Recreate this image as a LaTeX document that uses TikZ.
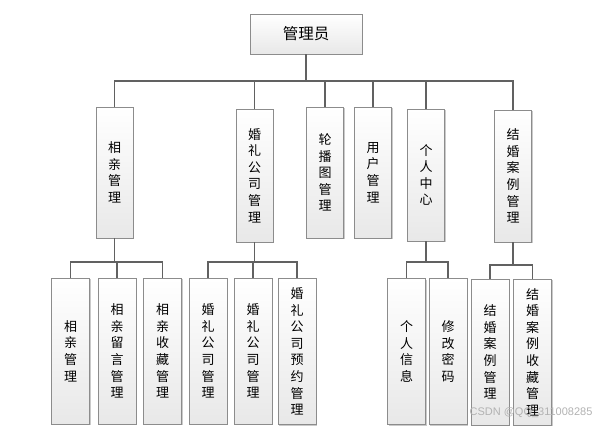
\documentclass[tikz,border=0pt]{standalone}
\usepackage{fontspec}
\newfontfamily\cjk{Noto Sans CJK SC}
\newfontfamily\wmfont{Liberation Sans}
\usetikzlibrary{shadows}
\tikzstyle{every node}=[font=\cjk\fontsize{13}{16.6}\selectfont]
\tikzstyle{box}=[draw=black!45,line width=0.9pt,top color=white,bottom color=black!9,
  drop shadow={shadow xshift=1.3pt,shadow yshift=-1.3pt,fill=black!35,opacity=0.6},
  align=center,inner sep=0pt]
\tikzstyle{midbox}=[box,minimum width=37pt]
\tikzstyle{lowbox}=[box,minimum width=38pt,minimum height=146pt]
\tikzstyle{link}=[draw=black!62,line width=1.2pt]

\begin{document}
\begin{tikzpicture}[x=1pt,y=-1pt]
\useasboundingbox (0,0) rectangle (605,426);

\node[box,minimum width=112pt,minimum height=40pt,font=\cjk\fontsize{15.5}{18}\selectfont] (admin) at (306,34) {管理员};

% second level
\node[midbox,minimum height=131pt] (xq) at (114.5,172.5) {相\\亲\\管\\理};
\node[midbox,minimum height=133pt] (hl) at (254.5,175.5) {婚\\礼\\公\\司\\管\\理};
\node[midbox,minimum height=131pt] (lb) at (325,172.5) {轮\\播\\图\\管\\理};
\node[midbox,minimum height=131pt] (yh) at (373,172.5) {用\\户\\管\\理};
\node[midbox,minimum height=132pt] (gr) at (426,175) {个\\人\\中\\心};
\node[midbox,minimum height=132pt] (jh) at (513,176) {结\\婚\\案\\例\\管\\理};

% third level
\node[lowbox] (xq1) at (70.5,351) {相\\亲\\管\\理};
\node[lowbox] (xq2) at (117,351) {相\\亲\\留\\言\\管\\理};
\node[lowbox] (xq3) at (162.5,351) {相\\亲\\收\\藏\\管\\理};
\node[lowbox] (hl1) at (208,351) {婚\\礼\\公\\司\\管\\理};
\node[lowbox] (hl2) at (253,351) {婚\\礼\\公\\司\\管\\理};
\node[lowbox] (hl3) at (297,351.5) {婚\\礼\\公\\司\\预\\约\\管\\理};
\node[lowbox] (gr1) at (406.5,351.5) {个\\人\\信\\息};
\node[lowbox] (gr2) at (448,351.5) {修\\改\\密\\码};
\node[lowbox] (jh1) at (490,352) {结\\婚\\案\\例\\管\\理};
\node[lowbox] (jh2) at (532.5,352) {结\\婚\\案\\例\\收\\藏\\管\\理};

% connectors
\coordinate (topbus) at (admin.south |- 0,81);
\draw[link] (admin.south) -- (topbus);
\foreach \n in {xq,hl,lb,yh,gr,jh}
  \draw[link] (topbus) -| (\n.north);

\coordinate (xqbus) at (xq.south |- 0,262);
\draw[link] (xq.south) -- (xqbus);
\foreach \n in {xq1,xq2,xq3}
  \draw[link] (xqbus) -| (\n.north);

\coordinate (hlbus) at (hl.south |- 0,262);
\draw[link] (hl.south) -- (hlbus);
\foreach \n in {hl1,hl2,hl3}
  \draw[link] (hlbus) -| (\n.north);

\coordinate (grbus) at (gr.south |- 0,262);
\draw[link] (gr.south) -- (grbus);
\foreach \n in {gr1,gr2}
  \draw[link] (grbus) -| (\n.north);

\coordinate (jhbus) at (jh.south |- 0,265);
\draw[link] (jh.south) -- (jhbus);
\foreach \n in {jh1,jh2}
  \draw[link] (jhbus) -| (\n.north);

\node[font=\wmfont\fontsize{11}{13}\selectfont,text=black!30] (mark) at (531,413) {CSDN @QQ\_311008285};
\end{tikzpicture}
\end{document}
